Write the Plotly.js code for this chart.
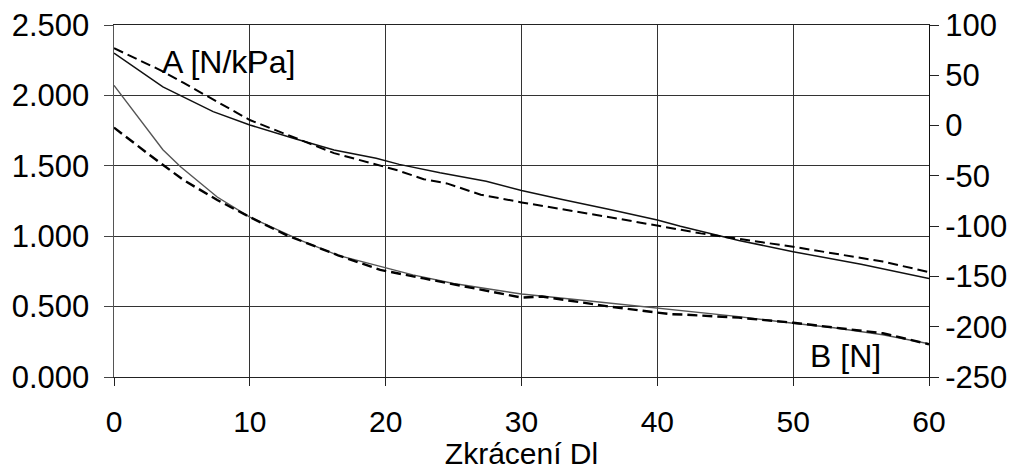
<!DOCTYPE html>
<html>
<head>
<meta charset="utf-8">
<script src="https://cdn.plot.ly/plotly-3.0.1.min.js"></script>
<style>
  html, body { margin: 0; padding: 0; background: #fff; }
  #chart { width: 1023px; height: 470px; }
</style>
</head>
<body>
<div id="chart"></div>
<script>
// Series A (left axis, N/kPa): measured (solid) and computed (dashed)
const aSolidX = [0, 3.6, 7.3, 10, 13.2, 16.2, 19.3, 21, 24, 27.4, 30, 33, 36.5, 40, 41.7, 43.2, 46, 50, 55, 60];
const aSolidY = [2.30, 2.06, 1.885, 1.79, 1.695, 1.612, 1.553, 1.51, 1.45, 1.39, 1.325, 1.26, 1.19, 1.115, 1.07, 1.035, 0.97, 0.89, 0.80, 0.70];
const aDashX = [0, 3.4, 5.1, 10, 16.2, 20.8, 22.8, 24.5, 27, 30, 36.5, 40, 41.7, 43.2, 50, 56.6, 60];
const aDashY = [2.335, 2.18, 2.09, 1.825, 1.59, 1.47, 1.405, 1.375, 1.295, 1.24, 1.135, 1.075, 1.05, 1.02, 0.925, 0.82, 0.745];

// Series B (right axis, N)
const bSolidX = [0, 3.6, 4.9, 7.6, 10, 13.7, 16.5, 19.6, 22, 25, 30, 34.3, 40, 42, 46, 50, 53, 56.6, 60];
const bSolidY = [40, -24, -41, -71, -91, -114, -129, -140, -148.5, -157, -167.5, -173.5, -181.5, -184, -190, -196.5, -201, -208, -217];
const bDashX = [0, 2.6, 5.1, 7.6, 10, 12.7, 16.5, 19.6, 22.8, 27, 30, 31.5, 36.5, 40, 41, 42, 46, 50, 56.6, 60];
const bDashY = [-2, -29, -54, -74, -91, -109, -129, -143.5, -152, -163.5, -171, -170, -180, -186, -187.5, -188, -191, -196, -206.5, -217.5];

// Axis ticks
const leftTicks = [0, 0.5, 1, 1.5, 2, 2.5];
const rightTicks = [-250, -200, -150, -100, -50, 0, 50, 100];
const rightTickText = ['-250', '-200', '-150', '-100', '-50', '0', '50', '100'];

const FONT = 'Liberation Sans, Arial, sans-serif';
const DASH = '10px,5px';

const traces = [
  { x: aSolidX, y: aSolidY, yaxis: 'y', mode: 'lines', line: { color: '#111', width: 1.5 } },
  { x: aDashX, y: aDashY, yaxis: 'y', mode: 'lines', line: { color: '#000', width: 2, dash: DASH } },
  { x: bSolidX, y: bSolidY, yaxis: 'y2', mode: 'lines', line: { color: '#555', width: 1.4 } },
  { x: bDashX, y: bDashY, yaxis: 'y2', mode: 'lines', line: { color: '#000', width: 2.4, dash: DASH } }
];

const layout = {
  width: 1023, height: 470,
  margin: { l: 114, r: 94, t: 25, b: 93 },
  paper_bgcolor: '#fff', plot_bgcolor: '#fff',
  showlegend: false,
  font: { family: FONT, color: '#000', size: 31 },
  xaxis: {
    range: [0, 60], dtick: 10, tick0: 0,
    showgrid: true, gridcolor: '#333', gridwidth: 1,
    zeroline: false, showline: true, mirror: true, linecolor: '#222', linewidth: 1,
    ticks: 'outside', ticklen: 8, tickcolor: '#222', ticklabelstandoff: 10,
    tickfont: { family: FONT, size: 30 },
    title: { text: 'Zkrácení Dl', font: { family: FONT, size: 30 }, standoff: 4 }
  },
  xaxis2: {
    overlaying: 'x', anchor: 'y', side: 'bottom', range: [0, 60], dtick: 10,
    showgrid: false, zeroline: false, showticklabels: false,
    ticks: 'inside', ticklen: 7, tickcolor: '#222'
  },
  yaxis: {
    range: [0, 2.5], tickvals: leftTicks, tickformat: '.3f',
    showgrid: true, gridcolor: '#333', gridwidth: 1,
    zeroline: false, showline: true, linecolor: '#555', linewidth: 1.5,
    ticks: 'outside', ticklen: 9, tickcolor: '#444', ticklabelstandoff: 8,
    tickfont: { family: FONT, size: 31 }
  },
  yaxis2: {
    overlaying: 'y', side: 'right', range: [-250, 100],
    tickvals: rightTicks, ticktext: rightTickText,
    showgrid: false, zeroline: false, showline: true, linecolor: '#111', linewidth: 1,
    ticks: 'outside', ticklen: 9, tickcolor: '#222',
    tickfont: { family: FONT, size: 31 }
  },
  yaxis3: {
    overlaying: 'y', side: 'left', range: [0, 2.5], tickvals: leftTicks,
    showgrid: false, zeroline: false, showticklabels: false,
    ticks: 'inside', ticklen: 6, tickcolor: '#444'
  },
  yaxis4: {
    overlaying: 'y', side: 'right', range: [-250, 100], tickvals: rightTicks,
    showgrid: false, zeroline: false, showticklabels: false,
    ticks: 'inside', ticklen: 10, tickcolor: '#222'
  },
  annotations: [
    { text: 'A [N/kPa]', x: 3.4, y: 2.237, xref: 'x', yref: 'y', xanchor: 'left', yanchor: 'middle',
      showarrow: false, font: { family: FONT, size: 32, color: '#000' } },
    { text: 'B [N]', x: 51.1, y: 0.149, xref: 'x', yref: 'y', xanchor: 'left', yanchor: 'middle',
      showarrow: false, font: { family: FONT, size: 32, color: '#000' } }
  ]
};

Plotly.newPlot('chart', traces, layout, { staticPlot: true, displayModeBar: false });
</script>
</body>
</html>
